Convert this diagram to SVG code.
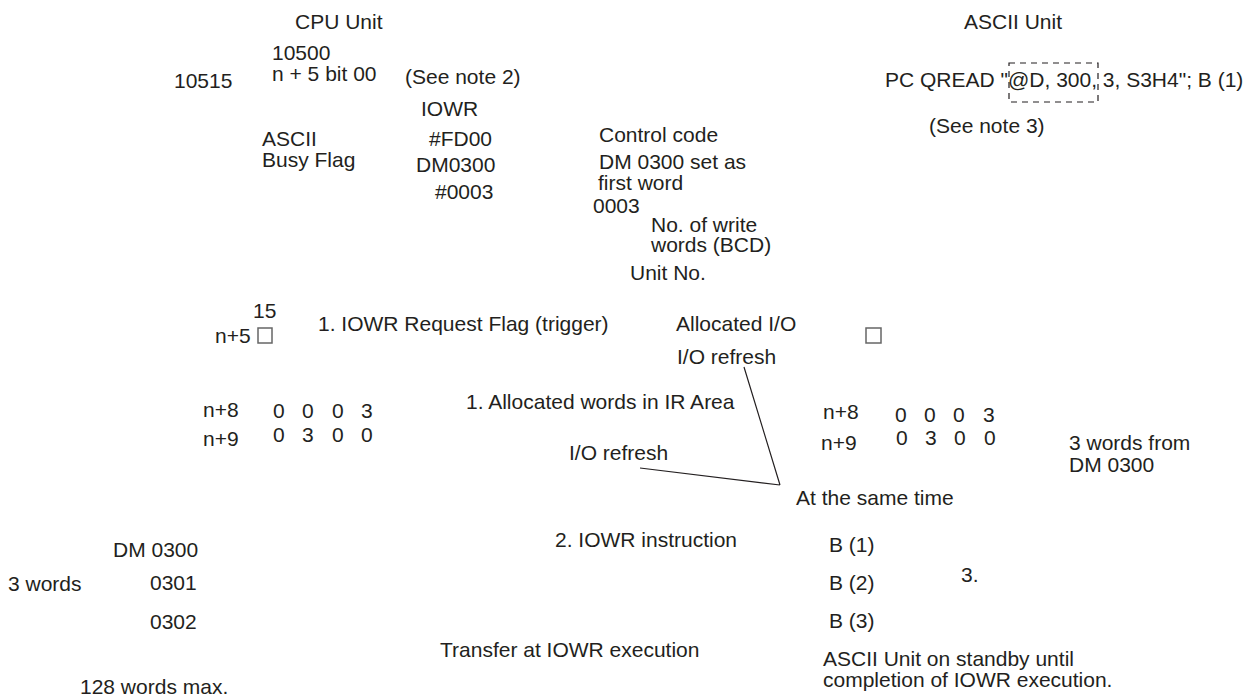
<svg xmlns="http://www.w3.org/2000/svg" width="1247" height="698" viewBox="0 0 1247 698">
<style>
text{font-family:"Liberation Sans",Arial,sans-serif;font-size:21px;fill:#231f20}
.box{fill:#fff;stroke:#666;stroke-width:1.5}
.ln{fill:none;stroke:#231f20;stroke-width:1.2}
.dash{fill:none;stroke:#231f20;stroke-width:1.2;stroke-dasharray:6 5}
</style>
<rect width="1247" height="698" fill="#fff"/>
<g id="cpu-header">
<text x="295" y="29">CPU Unit</text>
<text x="272" y="60">10500</text>
<text x="272" y="81">n + 5 bit 00</text>
<text x="174" y="88">10515</text>
<text x="405" y="84">(See note 2)</text>
<text x="262" y="146">ASCII</text>
<text x="262" y="167">Busy Flag</text>
</g>
<g id="iowr-instr">
<text x="421" y="116">IOWR</text>
<text x="429" y="146">#FD00</text>
<text x="416" y="172">DM0300</text>
<text x="435" y="199">#0003</text>
</g>
<g id="operand-notes">
<text x="599" y="142">Control code</text>
<text x="599" y="169">DM 0300 set as</text>
<text x="598" y="190">first word</text>
<text x="593" y="213">0003</text>
<text x="651" y="232">No. of write</text>
<text x="651" y="252">words (BCD)</text>
<text x="630" y="280">Unit No.</text>
</g>
<g id="ascii-header">
<text x="964" y="29">ASCII Unit</text>
<text x="885" y="87">PC QREAD "@D, 300, 3, S3H4"; B (1)</text>
<rect class="dash" x="1009" y="63" width="89" height="39"/>
<text x="929" y="133">(See note 3)</text>
</g>
<g id="cpu-flag">
<text x="253" y="318">15</text>
<text x="215" y="343">n+5</text>
<rect class="box" x="258" y="328" width="14" height="15"/>
<text x="318" y="331">1. IOWR Request Flag (trigger)</text>
</g>
<g id="allocated-io">
<text x="676" y="331">Allocated I/O</text>
<text x="677" y="364">I/O refresh</text>
<text x="466" y="409">1. Allocated words in IR Area</text>
<text x="569" y="460">I/O refresh</text>
<text x="796" y="505">At the same time</text>
</g>
<g id="ascii-flag">
<rect class="box" x="866" y="328" width="15" height="15"/>
</g>
<g id="cpu-words">
<text x="203" y="417">n+8</text>
<text x="273" y="418">0</text><text x="302" y="418">0</text><text x="332" y="418">0</text><text x="361" y="418">3</text>
<text x="203" y="446">n+9</text>
<text x="273" y="442">0</text><text x="302" y="442">3</text><text x="332" y="442">0</text><text x="361" y="442">0</text>
</g>
<g id="ascii-words">
<text x="823" y="419">n+8</text>
<text x="895" y="422">0</text><text x="924" y="422">0</text><text x="953" y="422">0</text><text x="983" y="422">3</text>
<text x="821" y="450">n+9</text>
<text x="896" y="445">0</text><text x="925" y="445">3</text><text x="954" y="445">0</text><text x="984" y="445">0</text>
<text x="1069" y="450">3 words from</text>
<text x="1069" y="472">DM 0300</text>
</g>
<g id="dm-area">
<text x="113" y="557">DM 0300</text>
<text x="8" y="591">3 words</text>
<text x="150" y="590">0301</text>
<text x="150" y="629">0302</text>
<text x="80" y="694">128 words max.</text>
</g>
<g id="transfer">
<text x="555" y="547">2. IOWR instruction</text>
<text x="440" y="657">Transfer at IOWR execution</text>
</g>
<g id="ascii-buffer">
<text x="829" y="552">B (1)</text>
<text x="829" y="590">B (2)</text>
<text x="829" y="628">B (3)</text>
<text x="961" y="582">3.</text>
<text x="823" y="666">ASCII Unit on standby until</text>
<text x="823" y="687">completion of IOWR execution.</text>
</g>
<g id="connectors">
<path class="ln" d="M744 367 L780 485 M640 468 L780 485"/>
</g>
</svg>
